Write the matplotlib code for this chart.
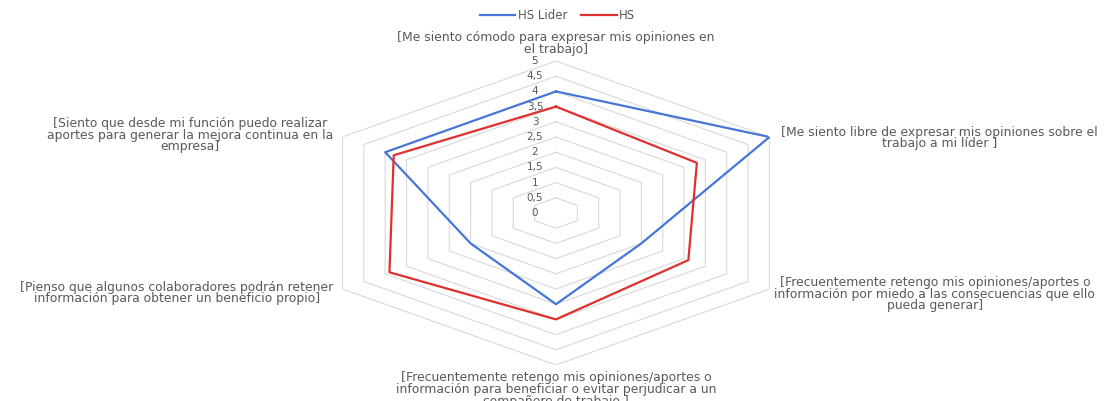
import numpy as np
import matplotlib.pyplot as plt

# preguntas (en sentido horario desde arriba)
categorias = [
    "[Me siento cómodo para expresar mis opiniones en\nel trabajo]",
    "[Me siento libre de expresar mis opiniones sobre el\ntrabajo a mi líder ]",
    "[Frecuentemente retengo mis opiniones/aportes o\ninformación por miedo a las consecuencias que ello\npueda generar]",
    "[Frecuentemente retengo mis opiniones/aportes o\ninformación para beneficiar o evitar perjudicar a un\ncompañero de trabajo ]",
    "[Pienso que algunos colaboradores podrán retener\ninformación para obtener un beneficio propio]",
    "[Siento que desde mi función puedo realizar\naportes para generar la mejora continua en la\nempresa]",
]
hs_lider = [4, 5, 2, 3, 2, 4]
hs = [3.5, 3.3, 3.1, 3.5, 3.9, 3.8]
niveles = [0, 0.5, 1, 1.5, 2, 2.5, 3, 3.5, 4, 4.5, 5]
etiquetas_niveles = ["0", "0,5", "1", "1,5", "2", "2,5", "3", "3,5", "4", "4,5", "5"]

AZUL = '#4676D8'
ROJO = '#E0302E'
GRIS_TXT = '#595959'
GRIS_GRID = '#D9D9D9'

n = len(categorias)
ang = np.linspace(0, 2 * np.pi, n, endpoint=False)
ang_c = np.append(ang, ang[0])

fig = plt.figure(figsize=(11.04, 4.01), dpi=100)
ax = fig.add_axes([0.2803, 0.0898, 0.4466, 0.758], projection='polar')
ax.set_aspect('auto')
ax.set_theta_zero_location('N')
ax.set_theta_direction(-1)
ax.set_ylim(0, 5)
ax.grid(False)
ax.spines['polar'].set_visible(False)
ax.set_xticks([])
ax.set_yticks([])
ax.patch.set_alpha(0)

# rejilla hexagonal
for lv in niveles[1:]:
    ax.plot(ang_c, [lv] * (n + 1), color=GRIS_GRID, lw=0.8, zorder=1)

# series
ax.plot(ang_c, hs_lider + hs_lider[:1], color=AZUL, lw=1.6, label='HS Lider', zorder=3)
ax.plot(ang_c, hs + hs[:1], color=ROJO, lw=1.6, label='HS', zorder=3)

# etiquetas del eje de valores
for lv, txt in zip(niveles, etiquetas_niveles):
    ax.annotate(txt, xy=(0, lv), xytext=(-21, 0), textcoords='offset pixels',
                ha='center', va='center', fontsize=7.5, color=GRIS_TXT,
                annotation_clip=False, zorder=2)

# etiquetas de categorias
pos = [
    ((0, 5), 'center', 'bottom'),
    ((12, -1), 'left', 'center'),
    ((5, -5), 'left', 'center'),
    ((0, -6), 'center', 'top'),
    ((-9, -4), 'right', 'center'),
    ((-9, 2), 'right', 'center'),
]
for a, cat, (off, ha, va) in zip(ang, categorias, pos):
    ax.annotate(cat, xy=(a, 5), xytext=off, textcoords='offset pixels',
                ha=ha, va=va, multialignment='center', fontsize=8.9,
                color=GRIS_TXT, linespacing=0.88, annotation_clip=False)

fig.legend(loc='center', bbox_to_anchor=(0.505, 0.962), ncol=2, frameon=False,
           fontsize=8.5, handlelength=3, handletextpad=0.2, columnspacing=1.2,
           labelcolor=GRIS_TXT)

fig.savefig('out.png', dpi=100, facecolor='white')
